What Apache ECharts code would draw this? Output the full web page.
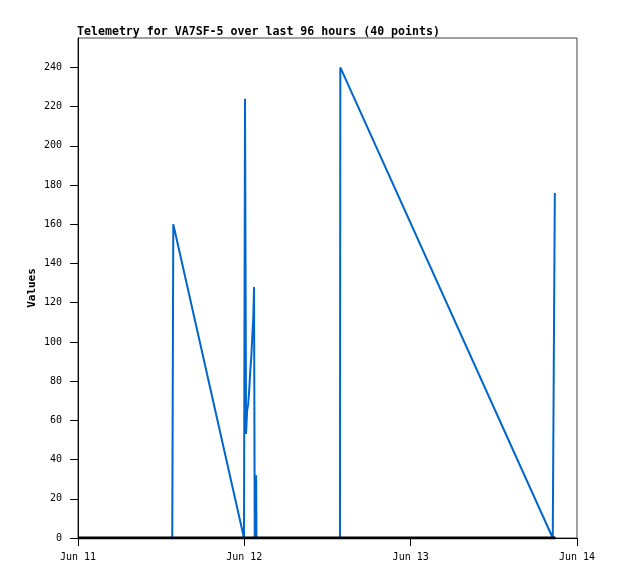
<!DOCTYPE html>
<html>
<head>
<meta charset="utf-8">
<script src="https://cdn.jsdelivr.net/npm/echarts@6/dist/echarts.min.js"></script>
<style>html,body{margin:0;padding:0;background:#fff;}#c{width:618px;height:579px;}</style>
</head>
<body>
<div id="c"></div>
<script>
// hours since Jun 11 00:00
const telemetryHours = [0, 3, 6, 9, 12, 13.6, 13.75, 23.95, 24.1, 24.25, 24.4, 24.55, 24.7, 24.85, 25.0, 25.15, 25.3, 25.4, 25.45, 25.5, 25.7, 25.75, 27, 29, 31, 33, 35, 36.5, 37.8, 37.85, 68.5, 68.8];
const telemetryValues = [0, 0, 0, 0, 0, 0, 160, 0, 224, 53, 65, 68, 75, 85, 92, 103, 113, 128, 65, 0, 32, 0, 0, 0, 0, 0, 0, 0, 0, 240, 0, 176];
const baseHours = [0, 12, 24, 36, 48, 60, 68.9];
const baseValues = [0, 0, 0, 0, 0, 0, 0];
const xTickLabels = ['Jun 11', 'Jun 12', 'Jun 13', 'Jun 14'];
const yTicks = [0, 20, 40, 60, 80, 100, 120, 140, 160, 180, 200, 220, 240];

const chart = echarts.init(document.getElementById('c'), null, {renderer: 'canvas'});
const mono = 'DejaVu Sans Mono';
chart.setOption({
  animation: false,
  title: {
    text: 'Telemetry for VA7SF-5 over last 96 hours (40 points)',
    left: 77, top: 26, padding: 0,
    textStyle: {fontFamily: mono, fontWeight: 'bold', fontSize: 11.6, color: '#000'}
  },
  grid: {left: 78, top: 38, width: 499, height: 500, show: true, borderColor: '#444', borderWidth: 1, containLabel: false},
  xAxis: {
    type: 'value', min: 0, max: 72, interval: 24,
    axisLine: {show: true, lineStyle: {color: '#000', width: 1}},
    axisTick: {show: true, length: 8, lineStyle: {color: '#000'}},
    splitLine: {show: false},
    axisLabel: {
      fontFamily: mono, fontSize: 10, color: '#000', margin: 14,
      formatter: v => xTickLabels[Math.round(v / 24)]
    }
  },
  yAxis: {
    type: 'value', min: 0, max: 255,
    name: 'Values', nameLocation: 'middle', nameGap: 40, nameRotate: 90, nameMoveOverlap: false,
    nameTextStyle: {fontFamily: mono, fontWeight: 'bold', fontSize: 11, color: '#000'},
    axisLine: {show: true, lineStyle: {color: '#000', width: 1}},
    axisTick: {show: true, length: 8, lineStyle: {color: '#000'}, customValues: yTicks},
    splitLine: {show: false},
    axisLabel: {fontFamily: mono, fontSize: 10, color: '#000', margin: 16, customValues: yTicks}
  },
  series: [
    {
      type: 'line', data: telemetryHours.map((h, i) => [h, telemetryValues[i]]),
      showSymbol: false, symbol: 'none',
      lineStyle: {color: '#0066cc', width: 2}, itemStyle: {color: '#0066cc'}, z: 2
    },
    {
      type: 'line', data: baseHours.map((h, i) => [h, baseValues[i]]),
      showSymbol: false, symbol: 'none',
      lineStyle: {color: '#000', width: 3}, itemStyle: {color: '#000'}, z: 3
    }
  ]
});
</script>
</body>
</html>
